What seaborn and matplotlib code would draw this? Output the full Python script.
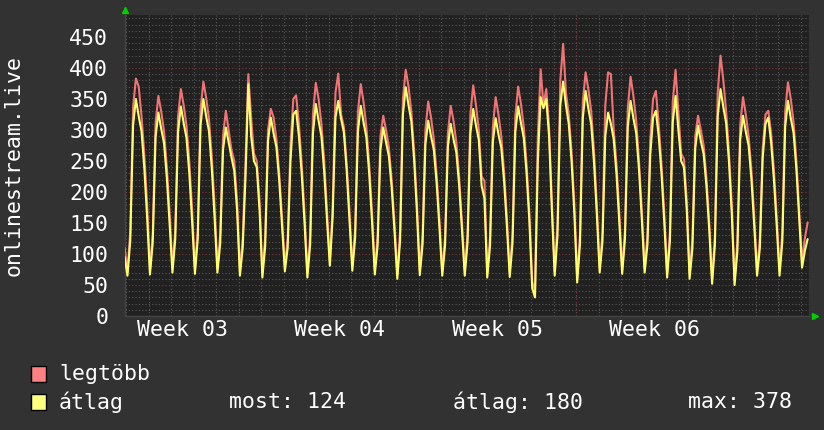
import numpy as np
import pandas as pd
import seaborn as sns
import matplotlib.pyplot as plt
from matplotlib.patches import Rectangle
from matplotlib.ticker import MultipleLocator

# samples every 3 hours (in days), first one just before the first midnight
t_start = -0.075
t_step = 0.125

# legtöbb (max), one row per day
legtobb = [110,
    72, 137, 337, 383, 370, 322, 260, 180,
    74, 134, 312, 355, 330, 298, 241, 167,
    77, 139, 322, 366, 340, 307, 249, 172,
    75, 139, 333, 378, 352, 318, 257, 178,
    77, 132, 291, 331, 300, 268, 250, 185,
    72, 125, 250, 390, 320, 262, 250, 185,
    69, 128, 300, 334, 320, 285, 230, 158,
    80, 125, 275, 350, 356, 310, 245, 165,
    69, 130, 325, 376, 350, 310, 250, 170,
    88, 175, 360, 391, 325, 305, 245, 168,
    80, 141, 330, 374, 345, 305, 245, 168,
    74, 129, 290, 323, 300, 272, 220, 150,
    67, 137, 350, 397, 370, 330, 265, 180,
    73, 131, 300, 346, 320, 285, 228, 155,
    72, 129, 295, 339, 315, 280, 225, 152,
    72, 134, 325, 372, 340, 300, 225, 218,
    69, 128, 305, 353, 325, 290, 232, 158,
    70, 133, 322, 370, 342, 305, 245, 165,
    55, 42, 290, 398, 340, 366, 305, 185,
    72, 150, 380, 439, 360, 325, 265, 180,
    61, 131, 345, 393, 365, 330, 265, 178,
    77, 135, 340, 393, 390, 300, 245, 165,
    75, 139, 335, 386, 355, 315, 250, 170,
    77, 130, 285, 350, 363, 310, 245, 165,
    69, 136, 345, 397, 330, 262, 253, 185,
    67, 124, 290, 323, 300, 275, 222, 150,
    59, 130, 360, 420, 380, 330, 265, 180,
    57, 120, 308, 353, 325, 290, 235, 160,
    72, 125, 270, 325, 331, 295, 235, 160,
    72, 136, 330, 377, 350, 312, 250, 170,
    88, 125, 151]

# átlag (average)
atlag = [95,
    65, 122, 308, 350, 322, 298, 238, 158,
    67, 119, 289, 328, 302, 279, 223, 148,
    70, 124, 297, 338, 311, 287, 230, 152,
    68, 124, 308, 350, 322, 298, 238, 158,
    70, 117, 268, 304, 280, 256, 234, 170,
    65, 110, 225, 374, 290, 250, 240, 170,
    62, 113, 282, 320, 294, 272, 218, 144,
    72, 110, 250, 325, 331, 290, 228, 150,
    62, 115, 295, 342, 315, 290, 232, 154,
    81, 160, 320, 347, 318, 296, 234, 155,
    73, 126, 298, 339, 312, 288, 230, 153,
    67, 114, 268, 304, 280, 258, 207, 137,
    60, 122, 325, 369, 340, 314, 251, 166,
    66, 116, 277, 315, 290, 268, 214, 142,
    65, 114, 273, 310, 285, 264, 211, 140,
    65, 119, 294, 334, 307, 284, 210, 190,
    62, 113, 281, 319, 293, 271, 217, 144,
    63, 118, 297, 338, 311, 287, 230, 152,
    45, 30, 250, 353, 335, 350, 290, 170,
    65, 130, 340, 378, 340, 310, 250, 165,
    54, 116, 319, 363, 334, 309, 247, 163,
    70, 120, 290, 328, 310, 285, 228, 150,
    68, 124, 305, 347, 319, 295, 236, 156,
    70, 115, 260, 320, 331, 290, 230, 150,
    62, 121, 312, 355, 300, 250, 240, 170,
    60, 109, 270, 307, 282, 261, 209, 138,
    52, 115, 322, 366, 337, 311, 249, 165,
    50, 105, 284, 323, 297, 275, 220, 145,
    65, 110, 255, 310, 320, 280, 220, 145,
    65, 121, 305, 347, 319, 295, 236, 156,
    78, 105, 124]

week_pos = [2.5, 9.5, 16.5, 23.5]
week_labels = ['Week 03', 'Week 04', 'Week 05', 'Week 06']
week_starts = [6, 13, 20, 27]
stats = {'most': 124, 'átlag': 180, 'max': 378}

bg = '#323232'
plot_bg = '#212121'
red = '#f07474'
yellow = '#ffff6e'
grid_minor = '#5a5a5a'
grid_major = '#7a3434'
fs = 15.5

t = t_start + t_step * np.arange(len(atlag))
df = pd.DataFrame({'t': t, 'legtöbb': legtobb, 'átlag': atlag})

sns.set_theme(style='dark')
plt.rcParams['font.family'] = ['DejaVu Sans Mono']

fig = plt.figure(figsize=(8.24, 4.30), dpi=100, facecolor=bg)
ax = fig.add_axes([125/824, 1 - 316/430, 684/824, 301/430])
ax.set_facecolor(plot_bg)

sns.lineplot(data=df, x='t', y='legtöbb', color=red, lw=1.5, ax=ax, zorder=3)
sns.lineplot(data=df, x='t', y='átlag', color=yellow, lw=1.5, ax=ax, zorder=4)

ax.set_xlim(-0.06, 30.36)
ax.set_ylim(0, 485.5)

# grid like rrdtool: grey dotted minor, red dotted major
ax.yaxis.set_major_locator(MultipleLocator(50))
ax.yaxis.set_minor_locator(MultipleLocator(10))
ax.set_xticks(week_pos, week_labels)
ax.set_xticks(range(0, 31), minor=True)
ax.grid(False)
ax.grid(which='minor', axis='both', color=grid_minor, ls=(0, (1, 2)), lw=0.8)
ax.grid(which='major', axis='y', color=grid_major, ls=(0, (1, 2)), lw=0.8)
for w in week_starts:
    ax.axvline(w, color=grid_major, ls=(0, (1, 2)), lw=0.8, zorder=1)
ax.set_axisbelow(True)

ax.tick_params(which='both', length=0, colors='white', labelsize=fs)
ax.tick_params(axis='y', pad=12)
ax.tick_params(axis='x', pad=3)
ax.set_xlabel('')
ax.set_ylabel('')
for s in ['top', 'right']:
    ax.spines[s].set_visible(False)
for s in ['left', 'bottom']:
    ax.spines[s].set_color('#444444')
    ax.spines[s].set_linewidth(1)

# green arrows at the axis ends
ax.plot([0], [1 + 5/301], marker='^', color='#00d000', ms=5, transform=ax.transAxes,
        clip_on=False, zorder=6)
ax.plot([1 + 6/684], [0], marker='>', color='#00d000', ms=5, transform=ax.transAxes,
        clip_on=False, zorder=6)

fig.text(14/824, 1 - 165/430, 'onlinestream.live', rotation=90, color='white',
         fontsize=fs, ha='center', va='center')

# legend
def sq(y, c):
    fig.patches.append(Rectangle((31/824, 1 - (y + 8)/430), 15/824, 16/430,
                                 transform=fig.transFigure, facecolor=c,
                                 edgecolor='black', lw=1))

sq(374, '#ff8080')
sq(402, '#ffff80')
fig.text(59/824, 1 - 374/430, 'legtöbb', color='white', fontsize=fs, va='center')
fig.text(59/824, 1 - 402/430, 'átlag', color='white', fontsize=fs, va='center')
fig.text(229/824, 1 - 402/430, 'most: %d' % stats['most'], color='white', fontsize=fs, va='center')
fig.text(453/824, 1 - 402/430, 'átlag: %d' % stats['átlag'], color='white', fontsize=fs, va='center')
fig.text(688/824, 1 - 402/430, 'max: %d' % stats['max'], color='white', fontsize=fs, va='center')

fig.savefig('out.png', dpi=100, facecolor=bg)
